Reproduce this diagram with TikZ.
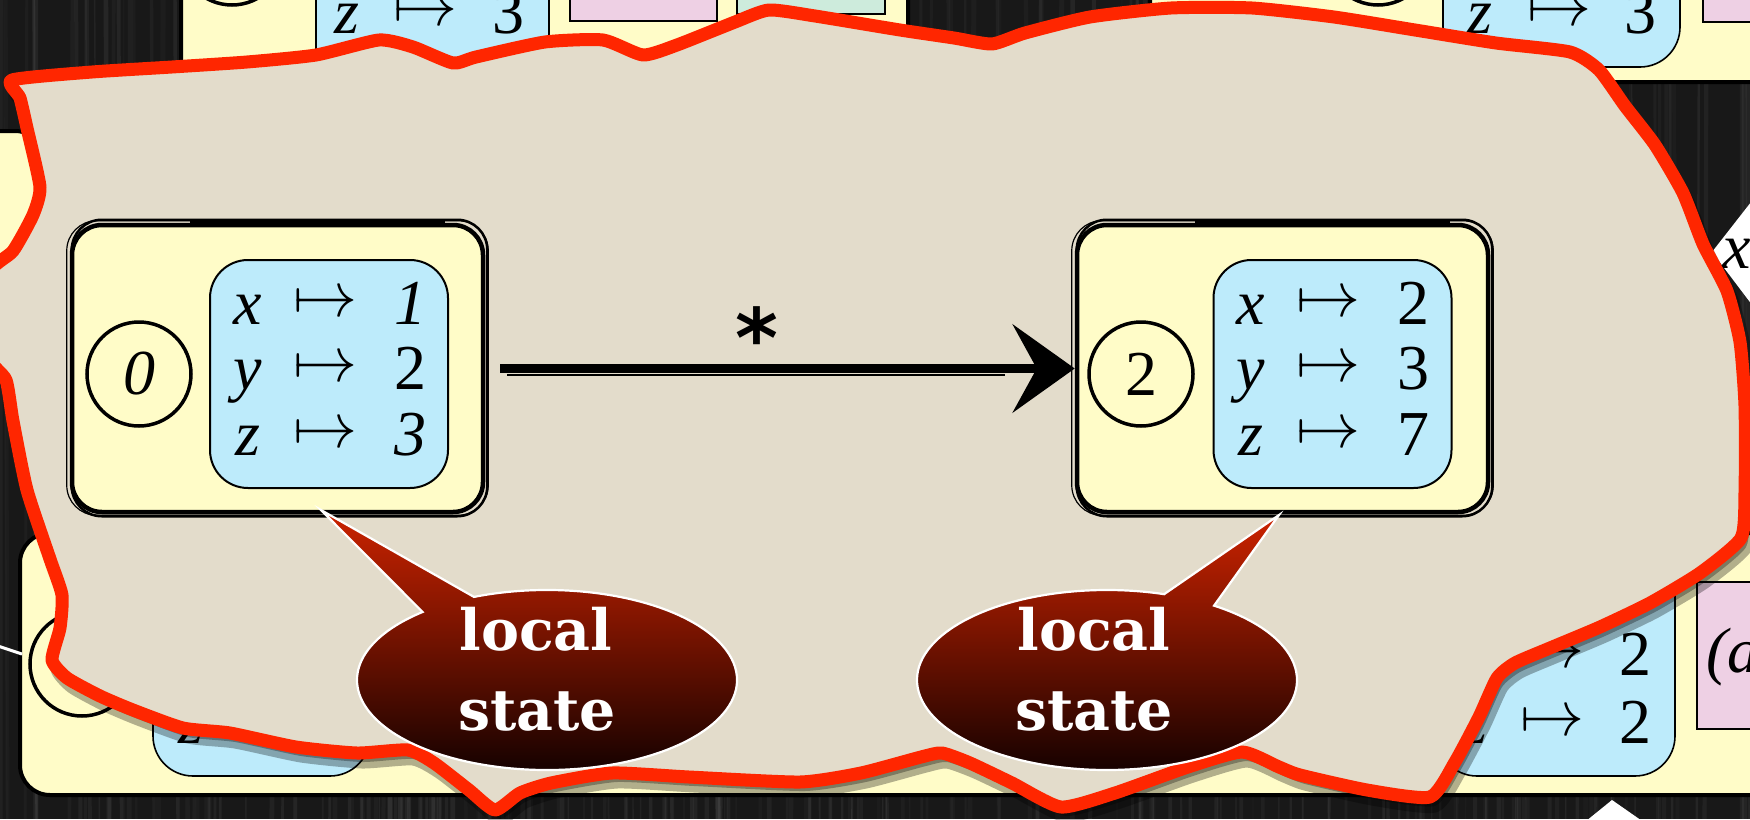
\documentclass[tikz,border=0pt]{standalone}
\usepackage{fix-cm}
\usepackage{fontspec}
\newfontfamily\calloutfont{DejaVu Serif}
\newfontfamily\starfont{DejaVu Sans}
\newfontfamily\statefont{Liberation Serif}
\usetikzlibrary{arrows.meta,calc}

\definecolor{wood}{RGB}{24,24,24}
\definecolor{paper}{RGB}{227,220,203}
\definecolor{tear}{RGB}{255,38,0}
\definecolor{stateyellow}{RGB}{255,252,200}
\definecolor{envblue}{RGB}{189,235,251}
\definecolor{tagpink}{RGB}{238,208,228}
\definecolor{tagmint}{RGB}{205,235,220}
\definecolor{bubbletop}{RGB}{205,35,0}
\definecolor{bubblebottom}{RGB}{14,0,0}

% one row "var |-> value" of an environment box
\newcommand\kvrow[5]{%
  \node[kvtext, anchor=base] (#1v) at ({#2+38}, #3) {\textit{#4}};
  \node[kvtext, anchor=base west] (#1m) at ({#2+83}, {#3-8}) {$\mapsto$};
  \node[kvtext, anchor=base] (#1n) at ({#2+200}, #3) {#5};}

% outline of the torn sheet
\newcommand\tornoutline{plot[smooth cycle, tension=0.35] coordinates {
  (12,80) (92,72) (172,67) (247,62) (316,55) (379,40) (413,47) (453,63)
  (476,57) (545,42) (603,40) (643,55) (677,45) (735,22) (769,10) (815,16)
  (900,30) (954,38) (992,44) (1025,33) (1090,17) (1171,8) (1252,8)
  (1334,17) (1415,30) (1496,43) (1570,52) (1599,70) (1625,106) (1655,145)
  (1683,193) (1703,244) (1727,291) (1740,342) (1745,406) (1745,492)
  (1741,538) (1700,573) (1650,603) (1600,627) (1550,648) (1515,663)
  (1497,678) (1479,717) (1455,762) (1430,797) (1367,790) (1300,775)
  (1279,767) (1242,752) (1188,767) (1115,793) (1061,807) (1012,783)
  (970,763) (942,753) (921,757) (861,773) (800,782) (689,777) (612,773)
  (551,783) (520,793) (495,810) (469,790) (434,763) (408,750) (357,753)
  (296,747) (230,733) (183,728) (133,710) (100,696) (67,678) (52,660)
  (60,628) (62,595) (50,559) (27,490) (13,421) (6,380) (-12,355)
  (-12,275) (13,251) (33,215) (40,187) (27,128) (20,98)}}

\begin{document}
\begin{tikzpicture}[x=1pt, y=-1pt,
  bgbox/.style={fill=stateyellow, draw=black, line width=4pt, rounded corners=30pt},
  envrect/.style={fill=envblue, draw=black, line width=1.6pt, rounded corners=40pt},
  tagrect/.style={draw=black, line width=1.2pt},
  ring/.style={draw=black, line width=3.5pt},
  statebox/.style={rectangle, rounded corners=30pt, fill=stateyellow, draw=black,
    line width=4.5pt, minimum width=411pt, minimum height=287pt, inner sep=0pt},
  envbox/.style={rectangle, rounded corners=38pt, fill=envblue, draw=black,
    line width=2pt, minimum width=238pt, minimum height=228pt, inner sep=0pt},
  numring/.style={circle, draw=black, line width=3.5pt, minimum size=104pt,
    inner sep=0pt, font=\statefont\fontsize{64}{64}\selectfont},
  kvtext/.style={inner sep=0pt, font=\statefont\fontsize{64}{64}\selectfont},
  sketch/.style={draw=black, rounded corners=30pt},
  transition/.style={line width=9pt, black, shorten <=15pt,
    -{Stealth[length=62pt, width=88pt, inset=24pt]}},
  starlabel/.style={inner sep=0pt, font=\starfont\bfseries\fontsize{82}{82}\selectfont},
  bubble/.style={draw=white, line width=2.2pt, top color=bubbletop, bottom color=bubblebottom},
  bubbletext/.style={inner sep=0pt, text=white, font=\calloutfont\bfseries\fontsize{57}{57}\selectfont}
]
\useasboundingbox (0,0) rectangle (1750,819);
\clip (0,0) rectangle (1750,819);

% dark wooden table
\fill[wood] (0,0) rectangle (1750,819);
\pgfmathsetseed{1234}
\foreach \k in {1,...,220}{
  \pgfmathsetmacro\sx{rnd*1760}
  \pgfmathsetmacro\sw{1+4*rnd}
  \pgfmathsetmacro\so{0.03+0.08*rnd}
  \pgfmathsetmacro\sd{10*rnd-5}
  \draw[line width=\sw pt, draw=gray!80, opacity=\so] (\sx,0) -- ({\sx+\sd},819);
}

% slides lying underneath
\draw[bgbox] (181,-120) rectangle (908,140);
\draw[ring] (232,-47) circle[radius=52];
\draw[envrect] (316,-150) rectangle (549,110);
\node[kvtext, anchor=base] (tlv) at (347,33) {\textit{z}};
\node[kvtext, anchor=base west] (tlm) at (393,25) {$\mapsto$};
\node[kvtext, anchor=base] (tln) at (508,33) {3};
\draw[tagrect, fill=tagpink] (570,-50) rectangle (717,21);
\draw[tagrect, fill=tagmint] (737,-50) rectangle (885,14);

\draw[bgbox] (1150,-120) rectangle (1900,82);
\draw[ring] (1378,-47) circle[radius=52];
\draw[envrect] (1443,-150) rectangle (1680,67);
\node[kvtext, anchor=base] (trv) at (1480,33) {\textit{z}};
\node[kvtext, anchor=base west] (trm) at (1527,25) {$\mapsto$};
\node[kvtext, anchor=base] (trn) at (1640,33) {3};
\draw[tagrect, fill=tagpink] (1703,-50) rectangle (1800,22);

\draw[bgbox] (-300,131) rectangle (45,330);

\draw[bgbox] (20,533) rectangle (1900,795);
\draw[ring] (82,664) circle[radius=52];
\draw[envrect] (153,546) rectangle (370,776);
\node[kvtext, anchor=base] (blv) at (191,743) {\textit{z}};
\draw[envrect] (1437,546) rectangle (1675,776);
\node[kvtext, anchor=base west] (brm) at (1520,667) {$\mapsto$};
\node[kvtext, anchor=base] (brn) at (1635,675) {2};
\node[kvtext, anchor=base] (brv) at (1475,743) {\textit{z}};
\node[kvtext, anchor=base west] (brm2) at (1520,735) {$\mapsto$};
\node[kvtext, anchor=base] (brn2) at (1635,743) {2};
\draw[tagrect, fill=tagpink] (1697,582) rectangle (1800,729);
\node[kvtext, anchor=base west] (brtag) at (1706,672) {\textit{(a}};

\fill[white] (1762,188) -- (1712,252) -- (1762,318) -- cycle;
\node[kvtext, anchor=base west] (card) at (1722,268) {\textit{x}};
\fill[white] (1612,800) -- (1575,830) -- (1655,830) -- cycle;
\draw[white, line width=3pt] (-5,645) -- (22,654);

% the torn sheet with its shadow
\begin{scope}[shift={(5,9)}]
  \filldraw[black, opacity=0.3, line width=13pt, line join=round] \tornoutline;
\end{scope}
\fill[paper] \tornoutline;
\draw[tear, line width=13pt, line join=round] \tornoutline;

% the two states
\node[statebox] (s0) at (277.5,368.5) {};
\node[statebox] (s2) at (1282.5,368.5) {};
\foreach \b in {s0,s2}{
  \draw[sketch, line width=1.2pt] ($(\b.south west)+(-3,1)$) rectangle ($(\b.north east)+(3,-2)$);
  \draw[sketch, line width=2.5pt] ($(\b.south west)+(2,2)$) rectangle ($(\b.north east)+(2,-3)$);
  \draw[line width=4pt] ($(\b.north west)+(120,-2)$) -- ($(\b.north east)+(-40,-2)$);
}
\node[numring] (c0) at (139,374) {\textit{0}};
\node[envbox] (m0) at (329,374) {};
\kvrow{a}{210}{324}{x}{\textit{1}}
\kvrow{b}{210}{389}{y}{2}
\kvrow{c}{210}{455}{z}{\textit{3}}

\node[numring] (c2) at (1141,374) {2};
\node[envbox] (m2) at (1332.5,374) {};
\kvrow{d}{1213}{324}{x}{2}
\kvrow{e}{1213}{389}{y}{3}
\kvrow{f}{1213}{455}{z}{7}

% the step between them
\draw[transition] (s0.east) -- (s2.west);
\draw[line width=2pt, shorten <=22pt, shorten >=70pt] ($(s0.east)+(0,6)$) -- ($(s2.west)+(0,6)$);
\node[starlabel, anchor=base] (step) at (757,367) {*};

% callouts
\coordinate (k1) at (547,680);
\coordinate (t1) at (321,510);
\shade[bubble] (t1) -- ($(k1)+(247.4:190 and 90)$)
  arc[start angle=247.4, end angle=589.1, x radius=190, y radius=90] -- cycle;
\node[bubbletext, anchor=base] (l1a) at (536,650) {local};
\node[bubbletext, anchor=base] (l1b) at (537,730) {state};

\coordinate (k2) at (1107,680);
\coordinate (t2) at (1279,515);
\shade[bubble] (t2) -- ($(k2)+(304.3:190 and 90)$)
  arc[start angle=304.3, end angle=647.5, x radius=190, y radius=90] -- cycle;
\node[bubbletext, anchor=base] (l2a) at (1094,650) {local};
\node[bubbletext, anchor=base] (l2b) at (1094,730) {state};
\end{tikzpicture}
\end{document}
